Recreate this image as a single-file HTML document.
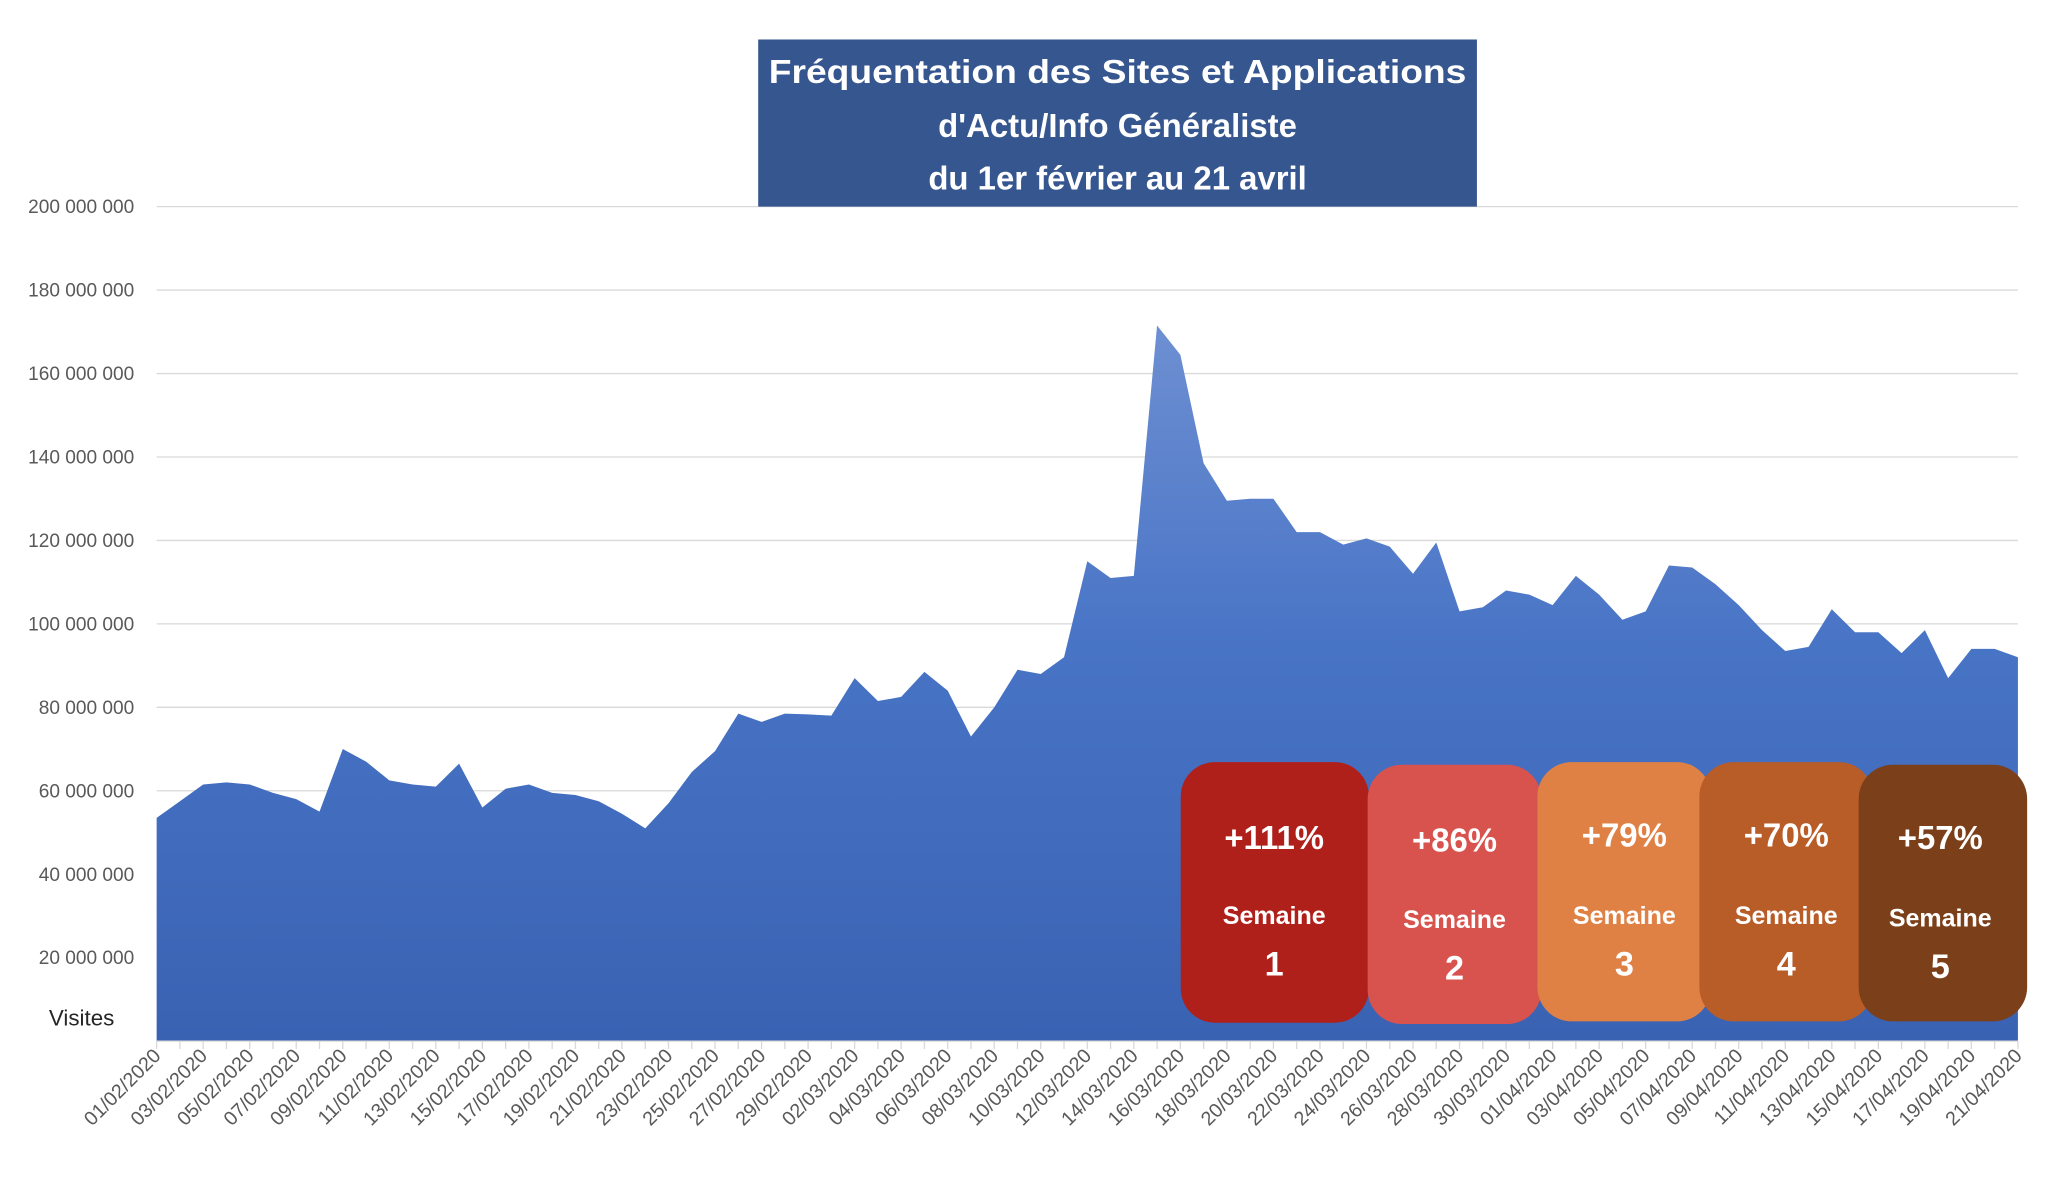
<!DOCTYPE html>
<html><head><meta charset="utf-8"><style>
html,body{margin:0;padding:0;background:#fff;}
svg{display:block;font-family:"Liberation Sans",sans-serif;}
</style></head><body>
<svg id="c" width="2064" height="1178" viewBox="0 0 1568 895" preserveAspectRatio="none" xmlns="http://www.w3.org/2000/svg">
<defs>
<linearGradient id="g" x1="0" y1="0" x2="0" y2="1">
<stop offset="0" stop-color="#6e8fd2"/><stop offset="0.45" stop-color="#4874c6"/><stop offset="1" stop-color="#3a62b3"/>
</linearGradient>
</defs>
<g id="grid" stroke="#d9d9d9" stroke-width="1"></g>
<g id="ylab" font-size="14.5" fill="#595959" text-anchor="end"></g>
<path id="area" fill="url(#g)"/>
<line x1="119" y1="791" x2="1533" y2="791" stroke="#d9d9d9"/>
<g id="ticks" stroke="#d9d9d9"></g>
<g id="xlab" font-size="15" fill="#595959" text-anchor="end"></g>
<text x="62" y="779" font-size="17" fill="#262626" text-anchor="middle">Visites</text>
<rect x="576" y="30" width="546" height="127" fill="#365690"/>
<g fill="#fff" font-weight="bold" font-size="25" text-anchor="middle">
<text x="849" y="63" textLength="530" lengthAdjust="spacingAndGlyphs">Fréquentation des Sites et Applications</text>
<text x="849" y="104">d'Actu/Info Généraliste</text>
<text x="849" y="144">du 1er février au 21 avril</text>
</g>
<g font-weight="bold" fill="#fff" text-anchor="middle">
<rect x="897" y="579" width="143" height="198" rx="26" fill="#b0201a"/>
<rect x="1039" y="581" width="132" height="197" rx="26" fill="#d9534e"/>
<rect x="1168" y="579" width="132" height="197" rx="26" fill="#df8145"/>
<rect x="1291" y="579" width="132" height="197" rx="26" fill="#b85c28"/>
<rect x="1412" y="581" width="128" height="195" rx="26" fill="#7b3f1a"/>
<g font-size="25"><text x="968" y="645">+111%</text><text x="1105" y="647">+86%</text><text x="1234" y="643">+79%</text><text x="1357" y="643">+70%</text><text x="1474" y="645">+57%</text></g>
<g font-size="19"><text x="968" y="702">Semaine</text><text x="1105" y="705">Semaine</text><text x="1234" y="702">Semaine</text><text x="1357" y="702">Semaine</text><text x="1474" y="704">Semaine</text></g>
<g font-size="26"><text x="968" y="741">1</text><text x="1105" y="744">2</text><text x="1234" y="741">3</text><text x="1357" y="741">4</text><text x="1474" y="743">5</text></g>
</g>
</svg>
<script>
var v=[53.5,57.5,61.5,62,61.5,59.5,58,55,70,67,62.5,61.5,61,66.5,56,60.5,61.5,59.5,59,57.5,54.5,51,57,64.5,69.5,78.5,76.5,78.5,78.3,
78,87,81.5,82.5,88.5,84,73,80,89,88,92,115,111,111.5,171.5,164.5,138.5,129.5,130,130,122,122,119,120.5,118.5,112,119.5,103,104,108,107,
104.5,111.5,107,101,103,114,113.5,109.5,104.5,98.5,93.5,94.5,103.5,98,98,93,98.5,87,94,94,92];
var ns="http://www.w3.org/2000/svg",x0=119,x1=1533,y0=791,h=634,n=v.length,st=(x1-x0)/(n-1);
function Y(m){return y0-m/200*h;}
var d="M"+x0+","+y0;
for(var i=0;i<n;i++)d+=" L"+(x0+i*st).toFixed(2)+","+Y(v[i]).toFixed(2);
d+=" L"+x1+","+y0+" Z";
document.getElementById("area").setAttribute("d",d);
var grid=document.getElementById("grid"),yl=document.getElementById("ylab");
for(var k=1;k<=10;k++){var y=Y(k*20);
var l=document.createElementNS(ns,"line");l.setAttribute("x1",x0);l.setAttribute("x2",x1);l.setAttribute("y1",y);l.setAttribute("y2",y);grid.appendChild(l);
var t=document.createElementNS(ns,"text");t.setAttribute("x",102);t.setAttribute("y",y+5);
t.textContent=(k*20)+" 000 000";yl.appendChild(t);}
var xl=document.getElementById("xlab"),tk=document.getElementById("ticks");
for(var i=0;i<n;i++){var x=x0+i*st;
var l=document.createElementNS(ns,"line");l.setAttribute("x1",x);l.setAttribute("x2",x);l.setAttribute("y1",y0);l.setAttribute("y2",y0+6);tk.appendChild(l);
if(i%2==0){var dd,mm;if(i<29){dd=i+1;mm="02";}else if(i<60){dd=i-28;mm="03";}else{dd=i-59;mm="04";}
var t=document.createElementNS(ns,"text");t.setAttribute("transform","translate("+(x+4)+","+(y0+12)+") rotate(-45)");
t.textContent=(dd<10?"0":"")+dd+"/"+mm+"/2020";xl.appendChild(t);}}
</script>
</body></html>
